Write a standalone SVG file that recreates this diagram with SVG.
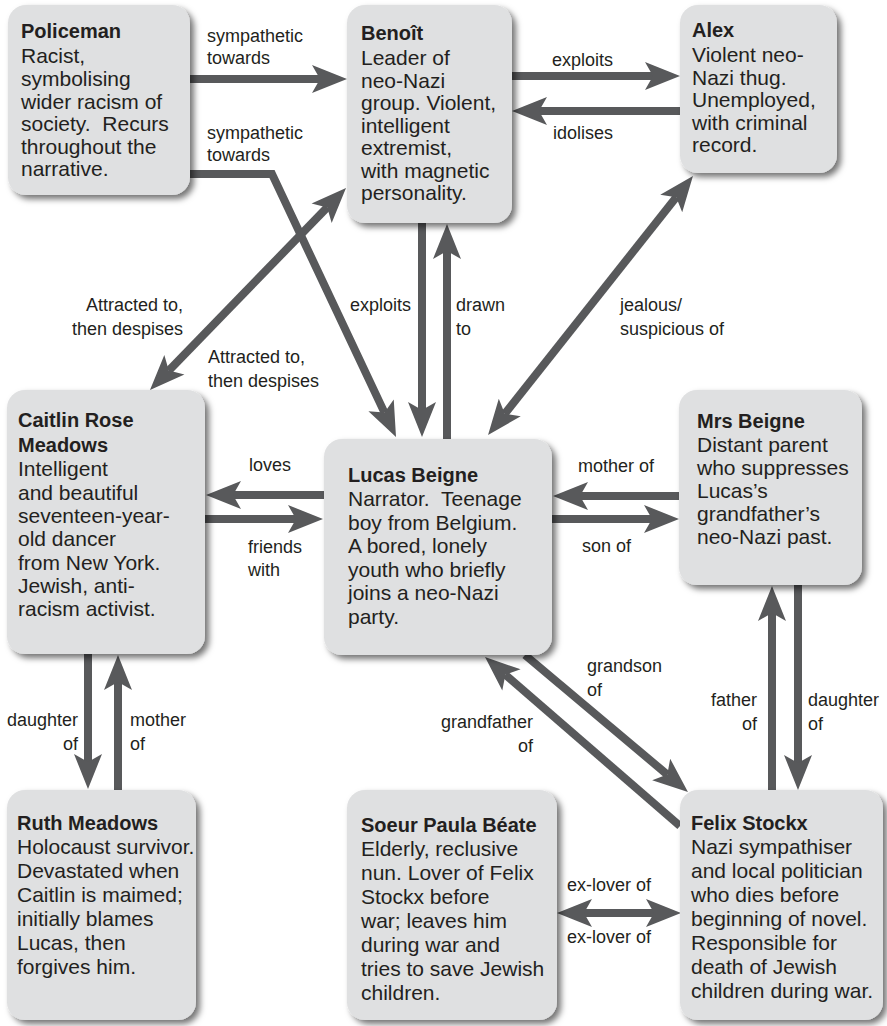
<svg xmlns="http://www.w3.org/2000/svg" width="887" height="1026" viewBox="0 0 887 1026">
<style>
.box{fill:#dfe0e1;filter:url(#sh)}
.t{font-family:"Liberation Sans",Arial,sans-serif;font-size:21px;fill:#231f20}
.b{font-weight:bold;font-size:20px}
.l{font-family:"Liberation Sans",Arial,sans-serif;font-size:18px;fill:#231f20}
.e{text-anchor:end}
.c{fill:none;stroke:#58595b;stroke-width:8;stroke-linejoin:miter}
.a{marker-end:url(#ah)}
.d{marker-start:url(#ah);marker-end:url(#ah)}
</style>
<defs>
<filter id="sh" x="-10%" y="-10%" width="125%" height="125%">
<feDropShadow dx="4" dy="4" stdDeviation="3" flood-color="#000" flood-opacity="0.55"/>
</filter>
<marker id="ah" markerUnits="userSpaceOnUse" viewBox="-2 -16 40 32" refX="8" refY="0" markerWidth="40" markerHeight="32" orient="auto-start-reverse">
<path d="M35,0 L0,-14 L8,0 L0,14 Z" fill="#58595b"/>
</marker>
</defs>

<g id="connectors">
<path class="c a" d="M190,79 H320"/>
<path class="c a" d="M190,174 H272 L384.5,412.6"/>
<path class="c a" d="M512,76 H653"/>
<path class="c a" d="M680,111 H539"/>
<path class="c d" d="M168.8,370.6 L327.2,207.4"/>
<path class="c a" d="M422,223 V410"/>
<path class="c a" d="M447,439 V251"/>
<path class="c d" d="M504.8,413.8 L676.2,197.2"/>
<path class="c a" d="M324,495 H233"/>
<path class="c a" d="M205,519 H296"/>
<path class="c a" d="M679,496 H580"/>
<path class="c a" d="M552,519 H652"/>
<path class="c a" d="M88,654 V762"/>
<path class="c a" d="M118,790 V682"/>
<path class="c a" d="M525,655 L667.3,774.6"/>
<path class="c a" d="M680,826 L505.4,674.7"/>
<path class="c a" d="M772,790 V613"/>
<path class="c a" d="M798,585 V763"/>
<path class="c d" d="M584,913 H654"/>

<text class="l" x="207" y="42">sympathetic</text>
<text class="l" x="207" y="64">towards</text>
<text class="l" x="207" y="139">sympathetic</text>
<text class="l" x="207" y="161">towards</text>
<text class="l" x="552" y="66">exploits</text>
<text class="l" x="553" y="139">idolises</text>
<text class="l e" x="183" y="311">Attracted to,</text>
<text class="l e" x="183" y="335">then despises</text>
<text class="l" x="208" y="363">Attracted to,</text>
<text class="l" x="208" y="387">then despises</text>
<text class="l e" x="411" y="311">exploits</text>
<text class="l" x="456" y="311">drawn</text>
<text class="l" x="456" y="335">to</text>
<text class="l" x="620" y="311">jealous/</text>
<text class="l" x="620" y="335">suspicious of</text>
<text class="l" x="249" y="471">loves</text>
<text class="l" x="248" y="553">friends</text>
<text class="l" x="248" y="576">with</text>
<text class="l" x="578" y="472">mother of</text>
<text class="l" x="582" y="552">son of</text>
<text class="l e" x="78" y="726">daughter</text>
<text class="l e" x="78" y="750">of</text>
<text class="l" x="130" y="726">mother</text>
<text class="l" x="130" y="750">of</text>
<text class="l" x="587" y="672">grandson</text>
<text class="l" x="587" y="696">of</text>
<text class="l e" x="533" y="728">grandfather</text>
<text class="l e" x="533" y="752">of</text>
<text class="l e" x="757" y="706">father</text>
<text class="l e" x="757" y="730">of</text>
<text class="l" x="808" y="706">daughter</text>
<text class="l" x="808" y="730">of</text>
<text class="l" x="567" y="891">ex-lover of</text>
<text class="l" x="567" y="943">ex-lover of</text>
</g>

<g id="policeman">
<rect class="box" x="8" y="5" width="182" height="190" rx="18"/>
<text class="t"><tspan class="b" x="21" y="38">Policeman</tspan><tspan x="21" y="63">Racist,</tspan><tspan x="21" y="86">symbolising</tspan><tspan x="21" y="108.5">wider racism of</tspan><tspan x="21" y="131">society.&#160; Recurs</tspan><tspan x="21" y="153.5">throughout the</tspan><tspan x="21" y="176">narrative.</tspan></text>
</g>

<g id="benoit">
<rect class="box" x="347" y="5" width="165" height="218" rx="18"/>
<text class="t"><tspan class="b" x="361" y="40">Benoît</tspan><tspan x="361" y="65">Leader of</tspan><tspan x="361" y="87.5">neo-Nazi</tspan><tspan x="361" y="110">group. Violent,</tspan><tspan x="361" y="132.5">intelligent</tspan><tspan x="361" y="155">extremist,</tspan><tspan x="361" y="177.5">with magnetic</tspan><tspan x="361" y="200">personality.</tspan></text>
</g>

<g id="alex">
<rect class="box" x="680" y="5" width="157" height="168" rx="18"/>
<text class="t"><tspan class="b" x="692" y="37">Alex</tspan><tspan x="692" y="62">Violent neo-</tspan><tspan x="692" y="84.5">Nazi thug.</tspan><tspan x="692" y="107">Unemployed,</tspan><tspan x="692" y="129.5">with criminal</tspan><tspan x="692" y="152">record.</tspan></text>
</g>

<g id="caitlin">
<rect class="box" x="7" y="390" width="198" height="264" rx="18"/>
<text class="t"><tspan class="b" x="18" y="427">Caitlin Rose</tspan><tspan class="b" x="18" y="452">Meadows</tspan><tspan x="18" y="476">Intelligent</tspan><tspan x="18" y="499.5">and beautiful</tspan><tspan x="18" y="523">seventeen-year-</tspan><tspan x="18" y="546">old dancer</tspan><tspan x="18" y="569.5">from New York.</tspan><tspan x="18" y="593">Jewish, anti-</tspan><tspan x="18" y="616">racism activist.</tspan></text>
</g>

<g id="lucas">
<rect class="box" x="324" y="439" width="228" height="216" rx="18"/>
<text class="t"><tspan class="b" x="348" y="482">Lucas Beigne</tspan><tspan x="348" y="506">Narrator.&#160; Teenage</tspan><tspan x="348" y="529.5">boy from Belgium.</tspan><tspan x="348" y="553">A bored, lonely</tspan><tspan x="348" y="576.5">youth who briefly</tspan><tspan x="348" y="600">joins a neo-Nazi</tspan><tspan x="348" y="623.5">party.</tspan></text>
</g>

<g id="mrs-beigne">
<rect class="box" x="679" y="390" width="183" height="195" rx="18"/>
<text class="t"><tspan class="b" x="697" y="428">Mrs Beigne</tspan><tspan x="697" y="452">Distant parent</tspan><tspan x="697" y="475">who suppresses</tspan><tspan x="697" y="498">Lucas’s</tspan><tspan x="697" y="521">grandfather’s</tspan><tspan x="697" y="544">neo-Nazi past.</tspan></text>
</g>

<g id="ruth">
<rect class="box" x="7" y="790" width="189" height="230" rx="18"/>
<text class="t"><tspan class="b" x="17" y="830">Ruth Meadows</tspan><tspan x="17" y="854">Holocaust survivor.</tspan><tspan x="17" y="878">Devastated when</tspan><tspan x="17" y="902">Caitlin is maimed;</tspan><tspan x="17" y="926">initially blames</tspan><tspan x="17" y="950">Lucas, then</tspan><tspan x="17" y="974">forgives him.</tspan></text>
</g>

<g id="soeur">
<rect class="box" x="347" y="790" width="210" height="230" rx="18"/>
<text class="t"><tspan class="b" x="361" y="832">Soeur Paula Béate</tspan><tspan x="361" y="856">Elderly, reclusive</tspan><tspan x="361" y="880">nun. Lover of Felix</tspan><tspan x="361" y="904">Stockx before</tspan><tspan x="361" y="928">war; leaves him</tspan><tspan x="361" y="952">during war and</tspan><tspan x="361" y="976">tries to save Jewish</tspan><tspan x="361" y="1000">children.</tspan></text>
</g>

<g id="felix">
<rect class="box" x="680" y="790" width="203" height="230" rx="18"/>
<text class="t"><tspan class="b" x="691" y="830">Felix Stockx</tspan><tspan x="691" y="854">Nazi sympathiser</tspan><tspan x="691" y="878">and local politician</tspan><tspan x="691" y="902">who dies before</tspan><tspan x="691" y="926">beginning of novel.</tspan><tspan x="691" y="950">Responsible for</tspan><tspan x="691" y="974">death of Jewish</tspan><tspan x="691" y="998">children during war.</tspan></text>
</g>
</svg>
